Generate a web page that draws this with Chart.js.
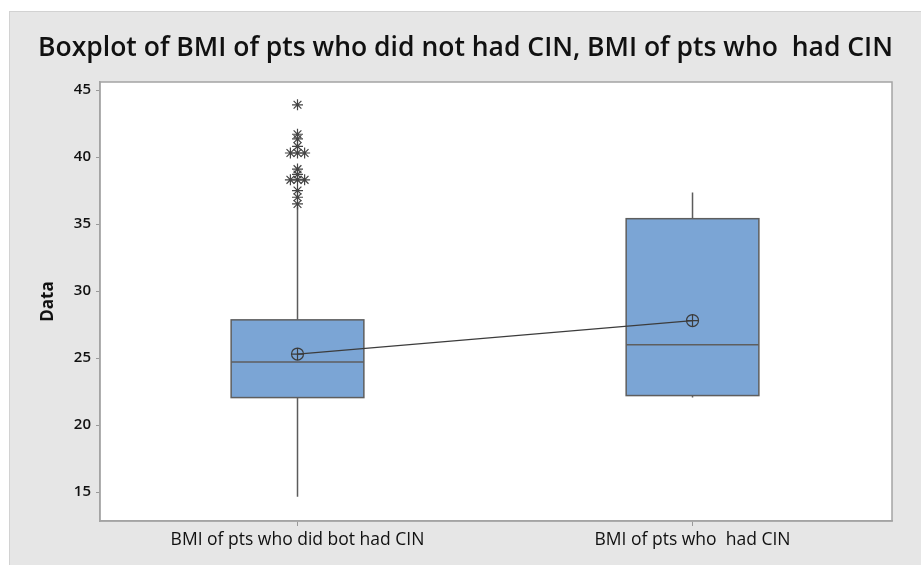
<!DOCTYPE html>
<html>
<head>
<meta charset="utf-8">
<script src="https://cdn.jsdelivr.net/npm/chart.js@4"></script>
<style>
  html, body { margin: 0; padding: 0; background: #fff; }
  #wrap {
    position: absolute; left: 9px; top: 11px; width: 912px; height: 554px;
    background: #e6e6e6; border-left: 1px solid #d2d2d2; border-top: 1px solid #d2d2d2;
    box-sizing: border-box;
  }
</style>
</head>
<body>
<div id="wrap"><canvas id="myChart"></canvas></div>
<script>
const categories = ["BMI of pts who did bot had CIN", "BMI of pts who  had CIN"];
const whiskerLow = [14.65, 22.05];
const q1 = [22.05, 22.2];
const median = [24.7, 26.0];
const q3 = [27.85, 35.4];
const whiskerHigh = [36.3, 37.35];
const means = [25.3, 27.8];
const outliers1 = [43.9, 41.7, 41.35, 40.8, 40.3, 40.3, 40.3, 39.1, 38.7, 38.3, 38.3, 38.3, 37.5, 37.0, 36.5];
const outliers2 = [];
const yTicks = [15, 20, 25, 30, 35, 40, 45];

const boxHalf = 0.168;
const jitterStep = 0.018;

// spread repeated outlier values sideways like Minitab does
function outlierPoints(vals, xc) {
  let pts = [];
  let counts = {};
  vals.forEach(v => counts[v] = (counts[v] || 0) + 1);
  let seen = {};
  vals.forEach(v => {
    let n = counts[v];
    let i = seen[v] || 0;
    seen[v] = i + 1;
    pts.push({ x: xc + (i - (n - 1) / 2) * jitterStep, y: v });
  });
  return pts;
}

let outlierData = outlierPoints(outliers1, 1).concat(outlierPoints(outliers2, 2));
let meanData = means.map((m, i) => ({ x: i + 1, y: m }));

const boxPlugin = {
  id: "boxes",
  beforeDraw(chart) {
    let { ctx, chartArea: a } = chart;
    ctx.save();
    ctx.fillStyle = "#ffffff";
    ctx.fillRect(a.left, a.top, a.right - a.left, a.bottom - a.top);
    ctx.restore();
  },
  beforeDatasetsDraw(chart) {
    let { ctx, chartArea: a } = chart;
    let xs = chart.scales.x;
    let ys = chart.scales.y;
    ctx.save();
    ctx.strokeStyle = "#a4a4a4";
    ctx.lineWidth = 1.5;
    ctx.strokeRect(a.left, a.top, a.right - a.left, a.bottom - a.top);
    for (let i = 0; i < categories.length; i++) {
      let xc = xs.getPixelForValue(i + 1);
      let xl = xs.getPixelForValue(i + 1 - boxHalf);
      let xr = xs.getPixelForValue(i + 1 + boxHalf);
      // whiskers
      ctx.strokeStyle = "#5c5c5c";
      ctx.lineWidth = 1.5;
      ctx.beginPath();
      ctx.moveTo(xc, ys.getPixelForValue(whiskerLow[i]));
      ctx.lineTo(xc, ys.getPixelForValue(q1[i]));
      ctx.moveTo(xc, ys.getPixelForValue(q3[i]));
      ctx.lineTo(xc, ys.getPixelForValue(whiskerHigh[i]));
      ctx.stroke();
      // box
      let yt = ys.getPixelForValue(q3[i]);
      let yb = ys.getPixelForValue(q1[i]);
      ctx.fillStyle = "#7ba5d5";
      ctx.fillRect(xl, yt, xr - xl, yb - yt);
      ctx.strokeStyle = "#5e5e5e";
      ctx.strokeRect(xl, yt, xr - xl, yb - yt);
      // median
      let ym = ys.getPixelForValue(median[i]);
      ctx.beginPath();
      ctx.moveTo(xl, ym);
      ctx.lineTo(xr, ym);
      ctx.stroke();
    }
    ctx.restore();
  }
};

new Chart("myChart", {
  type: "scatter",
  data: {
    datasets: [
      {
        label: "Mean",
        type: "line",
        data: meanData,
        borderColor: "#3c3c3c",
        borderWidth: 1.2,
        pointStyle: "circle",
        pointRadius: 6,
        pointBorderWidth: 1.2,
        pointBackgroundColor: "rgba(0,0,0,0)",
        pointBorderColor: "#3c3c3c",
        fill: false,
      },
      {
        label: "Mean cross",
        data: meanData,
        pointStyle: "cross",
        pointRadius: 6,
        pointBorderWidth: 1.2,
        pointBorderColor: "#3c3c3c",
      },
      {
        label: "Outliers",
        data: outlierData,
        pointStyle: "star",
        pointRadius: 5.5,
        pointBorderWidth: 1.2,
        pointBorderColor: "#444",
      },
    ],
  },
  options: {
    responsive: true,
    maintainAspectRatio: false,
    animation: false,
    layout: { padding: { top: 0, left: 0, right: 0, bottom: 0 } },
    plugins: {
      legend: { display: false },
      tooltip: { enabled: false },
      title: {
        display: true,
        text: "Boxplot of BMI of pts who did not had CIN, BMI of pts who  had CIN",
        color: "#111",
        font: { family: "'Open Sans'", size: 26.5, weight: "600", lineHeight: 1.2 },
        padding: { top: 20.1, bottom: 18.1 },
      },
    },
    scales: {
      x: {
        type: "linear",
        min: 0.5,
        max: 2.505,
        afterFit: (s) => { s.height = 44; },
        afterBuildTicks: (s) => { s.ticks = categories.map((c, i) => ({ value: i + 1 })); },
        ticks: {
          callback: (v) => categories[v - 1],
          color: "#111",
          font: { family: "'Open Sans'", size: 17.5 },
          padding: 4,
          maxRotation: 0,
        },
        grid: { drawOnChartArea: false, drawTicks: true, tickLength: 5, tickColor: "#999" },
        border: { display: true, color: "#a4a4a4", width: 1.5 },
      },
      y: {
        min: 12.84,
        max: 45.6,
        afterFit: (s) => { s.width = 90; },
        afterBuildTicks: (s) => { s.ticks = yTicks.map(v => ({ value: v })); },
        ticks: {
          color: "#111",
          font: { family: "'Open Sans'", size: 15, weight: "600" },
          padding: 5,
        },
        title: {
          display: true,
          text: "Data",
          color: "#111",
          font: { family: "'Open Sans'", size: 17, weight: "bold", lineHeight: 1.2 },
          padding: { top: 27.8, bottom: 0 },
        },
        grid: { drawOnChartArea: false, drawTicks: true, tickLength: 4, tickColor: "#999" },
        border: { display: true, color: "#a4a4a4", width: 1.5 },
      },
      // empty right-hand axis keeps the plot clear of the right edge
      yRight: {
        position: "right",
        display: true,
        min: 0,
        max: 1,
        afterFit: (s) => { s.width = 29; },
        ticks: { display: false },
        grid: { display: false },
        border: { display: false },
      },
    },
  },
  plugins: [boxPlugin],
});
</script>
</body>
</html>
